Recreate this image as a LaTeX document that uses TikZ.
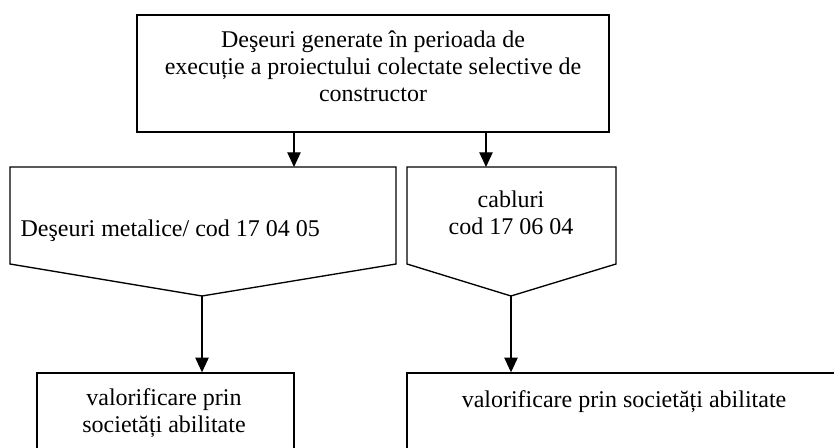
\documentclass[tikz,border=0pt]{standalone}
\usepackage{fontspec}
\setmainfont{Liberation Serif}
\usetikzlibrary{arrows.meta}

\tikzset{
	box/.style = {draw, inner sep = 0pt},
	txt/.style = {font = \fontsize{18}{20.25}\selectfont, inner sep = 0pt, align = center}
}

\begin{document}
\begin{tikzpicture}[x = 0.75pt, y = -0.75pt, > = {Triangle[length = 11pt, width = 10pt]}, line width = 1pt]

	\path [use as bounding box, clip] (0, 0) rectangle (834, 448);

	% Top box
	
	\node [box, minimum width = 354pt, minimum height = 87.75pt] (gen) at (373, 73.5) {};
	\node [txt, anchor = base] (gentext) at (373, 102) {Deşeuri generate în perioada de\\execuție a proiectului colectate selective de\\constructor};
	
	% Waste types
	
	\coordinate (metin) at (294, 167);
	\coordinate (metout) at (202, 296);
	\draw (10, 167) -- (396, 167) -- (396, 264) -- (metout) -- (10, 264) -- cycle;
	\node [txt, anchor = base west] (mettext) at (20, 237) {Deşeuri metalice/ cod 17 04 05};
	
	\coordinate (cabin) at (486, 167);
	\coordinate (cabout) at (511, 296);
	\draw (407, 167) -- (616, 167) -- (616, 264) -- (cabout) -- (407, 264) -- cycle;
	\node [txt, anchor = base] (cabtext) at (511, 235) {cabluri\\cod 17 06 04};
	
	% Recovery
	
	\node [box, minimum width = 192.75pt, minimum height = 75pt] (val1) at (165.5, 423) {};
	\node [txt, anchor = base] (val1text) at (164, 432) {valorificare prin\\societăți abilitate};
	
	\node [box, minimum width = 339.75pt, minimum height = 75pt] (val2) at (633.5, 423) {};
	\node [txt, anchor = base] (val2text) at (624, 407) {valorificare prin societăți abilitate};
	
	% Arrows
	
	\draw [->] (gen.south -| metin) -- (metin);
	\draw [->] (gen.south -| cabin) -- (cabin);
	\draw [->] (metout) -- (metout |- val1.north);
	\draw [->] (cabout) -- (cabout |- val2.north);

\end{tikzpicture}
\end{document}
